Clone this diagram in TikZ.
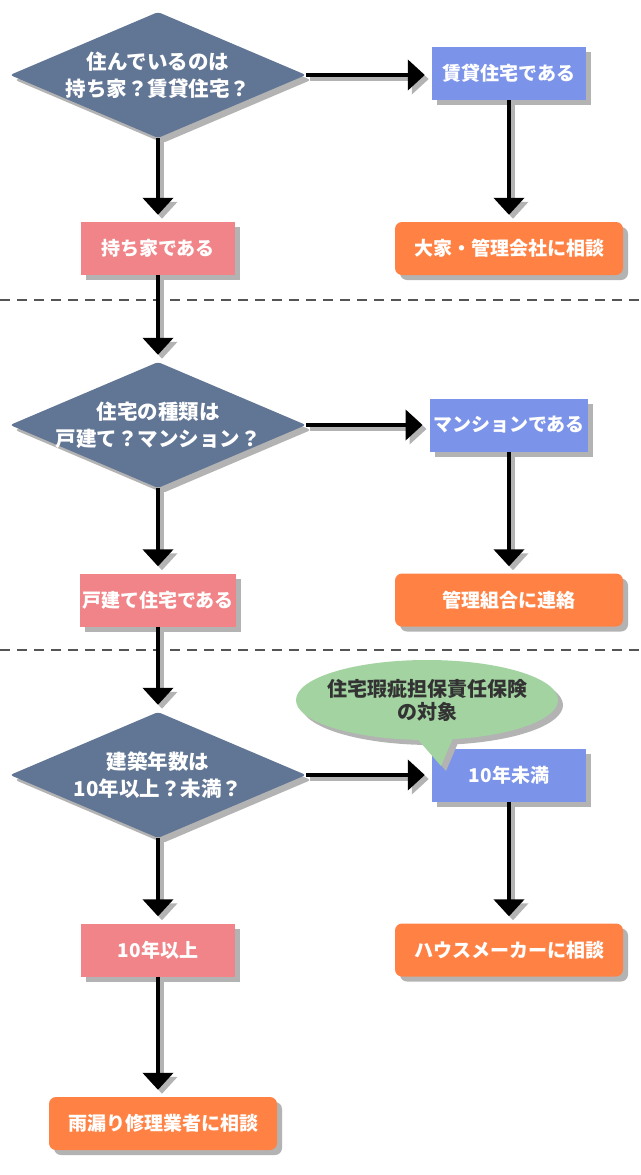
\documentclass[tikz,border=0pt]{standalone}
\usepackage{fontspec}
\setmainfont{Noto Sans CJK JP}
\usetikzlibrary{shapes.geometric, shapes.callouts, arrows.meta, shadows}
\definecolor{decisioncol}{HTML}{617594}
\definecolor{bluecol}{HTML}{7B93E8}
\definecolor{pinkcol}{HTML}{F08488}
\definecolor{orangecol}{HTML}{FF8244}
\definecolor{greencol}{HTML}{A2D3A0}
\definecolor{shadowcol}{HTML}{B3B3B3}
\definecolor{notetext}{HTML}{333333}
\definecolor{dashcol}{HTML}{555555}
\tikzset{boxshadow/.style={drop shadow={shadow xshift=5pt, shadow yshift=-5pt, fill=shadowcol, opacity=1}}}
\tikzstyle{decision} = [diamond, aspect=2.34, minimum width=296pt, minimum height=126pt, inner sep=-40pt, rounded corners=3pt, fill=decisioncol, text=white, align=center, font=\bfseries\fontsize{20.5}{27}\selectfont, boxshadow]
\tikzstyle{bluebox} = [rectangle, minimum width=154pt, minimum height=53pt, fill=bluecol, text=white, font=\bfseries\fontsize{19}{22}\selectfont, boxshadow]
\tikzstyle{pinkbox} = [rectangle, minimum width=154pt, minimum height=53pt, inner sep=2pt, fill=pinkcol, text=white, font=\bfseries\fontsize{19}{22}\selectfont, boxshadow]
\tikzstyle{orangebox} = [rectangle, rounded corners=7pt, minimum width=228pt, minimum height=53pt, fill=orangecol, text=white, font=\bfseries\fontsize{19}{22}\selectfont, boxshadow]
\tikzstyle{bubble} = [ellipse callout, minimum width=262pt, minimum height=80pt, inner sep=-30pt, fill=greencol, text=notetext, align=center, font=\bfseries\fontsize{20}{23}\selectfont, boxshadow]
\tikzstyle{arrow} = [line width=4.5pt, -{Triangle[width=30pt,length=17pt]}, shorten >=7pt]
\tikzstyle{arrowshadow} = [arrow, draw=shadowcol, transform canvas={shift={(4pt,-4pt)}}]
\tikzstyle{separator} = [line width=2pt, draw=dashcol, dash pattern=on 10pt off 7pt]

\begin{document}
\begin{tikzpicture}[x=1pt, y=-1pt]
        \useasboundingbox (0,0) rectangle (640,1175);
        % separators
        \draw [separator] (0,300) -- (640,300);
        \draw [separator] (0,650) -- (640,650);
        % first question
        \node (q1) [decision] at (158,75) {住んでいるのは\\持ち家？賃貸住宅？};
        \node (rent) [bluebox] at (509,73.5) {賃貸住宅である};
        \node (own) [pinkbox] at (158,248.5) {持ち家である};
        \node (owner) [orangebox] at (509,248.5) {大家・管理会社に相談};
        \draw [arrowshadow] (q1.east) -- (q1.east -| rent.west);
        \draw [arrow] (q1.east) -- (q1.east -| rent.west);
        \draw [arrowshadow] (q1.south) -- (own.north);
        \draw [arrow] (q1.south) -- (own.north);
        \draw [arrowshadow] (rent.south) -- (owner.north);
        \draw [arrow] (rent.south) -- (owner.north);
        % second question
        \node (q2) [decision] at (158,425) {住宅の種類は\\戸建て？マンション？};
        \node (mansion) [bluebox] at (509,425) {マンションである};
        \node (house) [pinkbox] at (158,600) {戸建て住宅である};
        \node (union) [orangebox] at (509,600) {管理組合に連絡};
        \draw [arrowshadow] (own.south) -- (q2.north);
        \draw [arrow] (own.south) -- (q2.north);
        \draw [arrowshadow] (q2.east) -- (mansion.west);
        \draw [arrow] (q2.east) -- (mansion.west);
        \draw [arrowshadow] (q2.south) -- (house.north);
        \draw [arrow] (q2.south) -- (house.north);
        \draw [arrowshadow] (mansion.south) -- (union.north);
        \draw [arrow] (mansion.south) -- (union.north);
        % third question
        \node (q3) [decision] at (158,775) {建築年数は\\10年以上？未満？};
        \node (under) [bluebox] at (509,775) {10年未満};
        \node (over) [pinkbox] at (158,950) {10年以上};
        \node (maker) [orangebox] at (509,950) {ハウスメーカーに相談};
        \node (repair) [orangebox] at (163,1123.5) {雨漏り修理業者に相談};
        \draw [arrowshadow] (house.south) -- (q3.north);
        \draw [arrow] (house.south) -- (q3.north);
        \draw [arrowshadow] (q3.east) -- (under.west);
        \draw [arrow] (q3.east) -- (under.west);
        \draw [arrowshadow] (q3.south) -- (over.north);
        \draw [arrow] (q3.south) -- (over.north);
        \draw [arrowshadow] (under.south) -- (maker.north);
        \draw [arrow] (under.south) -- (maker.north);
        \draw [arrowshadow] (over.south) -- (over.south |- repair.north);
        \draw [arrow] (over.south) -- (over.south |- repair.north);
        % note
        \node (note) [bubble, callout absolute pointer={(441,766)}] at (427,700) {住宅瑕疵担保責任保険\\の対象};
    \end{tikzpicture}
\end{document}
